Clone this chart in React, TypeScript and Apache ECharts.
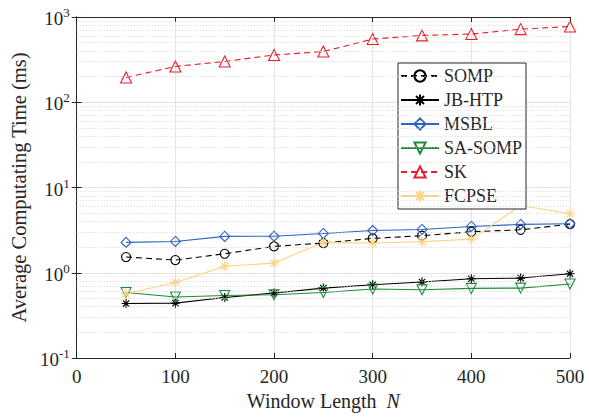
import React, { useEffect, useRef } from "react";
import * as echarts from "echarts";

const windowLengths = [50, 100, 150, 200, 250, 300, 350, 400, 450, 500];
const sompValues = [1.53, 1.41, 1.67, 2.04, 2.23, 2.53, 2.72, 3.03, 3.19, 3.72];
const jbhtpValues = [0.435, 0.44, 0.513, 0.578, 0.661, 0.723, 0.778, 0.85, 0.866, 0.973];
const msblValues = [2.27, 2.33, 2.67, 2.68, 2.89, 3.13, 3.22, 3.49, 3.69, 3.76];
const sasompValues = [0.587, 0.519, 0.542, 0.552, 0.587, 0.644, 0.632, 0.655, 0.661, 0.737];
const skValues = [195, 263, 301, 358, 394, 551, 608, 631, 721, 774];
const fcpseValues = [0.567, 0.77, 1.19, 1.3, 2.27, 2.23, 2.31, 2.48, 6.16, 4.92];

const seriesNames = ["SOMP", "JB-HTP", "MSBL", "SA-SOMP", "SK", "FCPSE"];
const decadeExponents = [-1, 0, 1, 2];
const minorMultipliers = [2, 3, 4, 5, 6, 7, 8, 9];

const FONT = "Liberation Serif";
const AXIS = "#262626";
const asterisk8 = "path://M0,-10L0,10M-10,0L10,0M-7.07,-7.07L7.07,7.07M-7.07,7.07L7.07,-7.07";

export default function App() {
  const ref = useRef<HTMLDivElement>(null);
  useEffect(() => {
    if (!ref.current) return;
    const chart = echarts.init(ref.current, null, { renderer: "svg" });
    const minorLines: any[] = [];
    decadeExponents.forEach((e) =>
      minorMultipliers.forEach((m) => minorLines.push({ yAxis: m * Math.pow(10, e) }))
    );
    const pts = (vals: number[]) => windowLengths.map((x, i) => [x, vals[i]]);
    const mk = (
      name: string,
      vals: number[],
      color: string,
      symbol: string,
      size: number,
      dashed: boolean,
      rotate = 0
    ) => ({
      name,
      type: "line",
      data: pts(vals),
      symbol,
      symbolSize: size,
      symbolRotate: rotate,
      showAllSymbol: true,
      z: 3,
      lineStyle: { color, width: 1.1, type: dashed ? [6, 4] : "solid" },
      itemStyle: { color: "none", borderColor: color, borderWidth: 1.1 },
    });
    const somp: any = mk("SOMP", sompValues, "#000000", "circle", 9, true);
    somp.markLine = {
      silent: true,
      symbol: ["none", "none"],
      label: { show: false },
      lineStyle: { color: "#d6d6d6", width: 1, type: [1, 2] },
      emphasis: { disabled: true },
      data: minorLines,
    };
    const option: any = {
      animation: false,
      grid: { left: 72, right: 19, top: 17, bottom: 60 },
      legend: {
        data: seriesNames,
        orient: "vertical",
        left: 398,
        top: 63,
        itemWidth: 38,
        itemHeight: 14,
        itemGap: 6,
        padding: [4, 4, 4, 2],
        backgroundColor: "#fff",
        borderColor: AXIS,
        borderWidth: 1,
        borderRadius: 0,
        textStyle: { fontFamily: FONT, fontSize: 18, color: AXIS, lineHeight: 14 },
        selectedMode: false,
      },
      xAxis: [
        {
          type: "value",
          min: 0,
          max: 500,
          interval: 100,
          name: "{n|Window Length  }{i|N}",
          nameLocation: "middle",
          nameGap: 32,
          nameTextStyle: {
            fontFamily: FONT,
            fontSize: 20,
            rich: {
              n: { fontFamily: FONT, fontSize: 20, color: AXIS },
              i: { fontFamily: FONT, fontSize: 20, color: AXIS, fontStyle: "italic" },
            },
          },
          axisLine: { show: true, lineStyle: { color: AXIS, width: 1 } },
          axisTick: { show: true, inside: true, length: 5, lineStyle: { color: AXIS } },
          axisLabel: { fontFamily: FONT, fontSize: 19, color: AXIS, margin: 9 },
          splitLine: { show: true, lineStyle: { color: "#e3e3e3", width: 1 } },
        },
        {
          type: "value",
          position: "top",
          min: 0,
          max: 500,
          interval: 100,
          axisLine: { show: true, onZero: false, lineStyle: { color: AXIS, width: 1 } },
          axisTick: { show: true, inside: true, length: 5, lineStyle: { color: AXIS } },
          axisLabel: { show: false },
          splitLine: { show: false },
        },
      ],
      yAxis: [
        {
          type: "log",
          logBase: 10,
          min: 0.1,
          max: 1000,
          splitNumber: 4,
          name: "Average Computating Time (ms)",
          nameLocation: "middle",
          nameGap: 40,
          nameTextStyle: { fontFamily: FONT, fontSize: 20.5, color: AXIS },
          axisLine: { show: true, lineStyle: { color: AXIS, width: 1 } },
          axisTick: { show: true, inside: true, length: 5, lineStyle: { color: AXIS } },
          axisLabel: {
            margin: 7,
            fontFamily: FONT,
            fontSize: 19,
            formatter: (v: number) => "{b|10}{s|" + Math.round(Math.log10(v)) + "}",
            rich: {
              b: { fontFamily: FONT, fontSize: 19, color: AXIS, verticalAlign: "bottom", lineHeight: 22 },
              s: { fontFamily: FONT, fontSize: 13, color: AXIS, verticalAlign: "top", lineHeight: 22, padding: [0, 0, 10, 0] },
            },
          },
          splitLine: { show: true, lineStyle: { color: "#e3e3e3", width: 1 } },
        },
        {
          type: "log",
          logBase: 10,
          min: 0.1,
          max: 1000,
          splitNumber: 4,
          position: "right",
          axisLine: { show: true, lineStyle: { color: AXIS, width: 1 } },
          axisTick: { show: true, inside: true, length: 5, lineStyle: { color: AXIS } },
          axisLabel: { show: false },
          splitLine: { show: false },
        },
      ],
      series: [
        somp,
        mk("JB-HTP", jbhtpValues, "#000000", asterisk8, 9, false),
        mk("MSBL", msblValues, "#2e64c0", "diamond", 10, false),
        mk("SA-SOMP", sasompValues, "#1f8a3a", "triangle", 10, false, 180),
        mk("SK", skValues, "#e8202a", "triangle", 11, true),
        mk("FCPSE", fcpseValues, "#ffd27f", asterisk8, 10, false),
      ],
    };
    chart.setOption(option);
    return () => chart.dispose();
  }, []);
  return (
    <div
      ref={ref}
      style={{ position: "fixed", left: 0, top: 0, width: 589, height: 418, background: "#fff" }}
    />
  );
}
